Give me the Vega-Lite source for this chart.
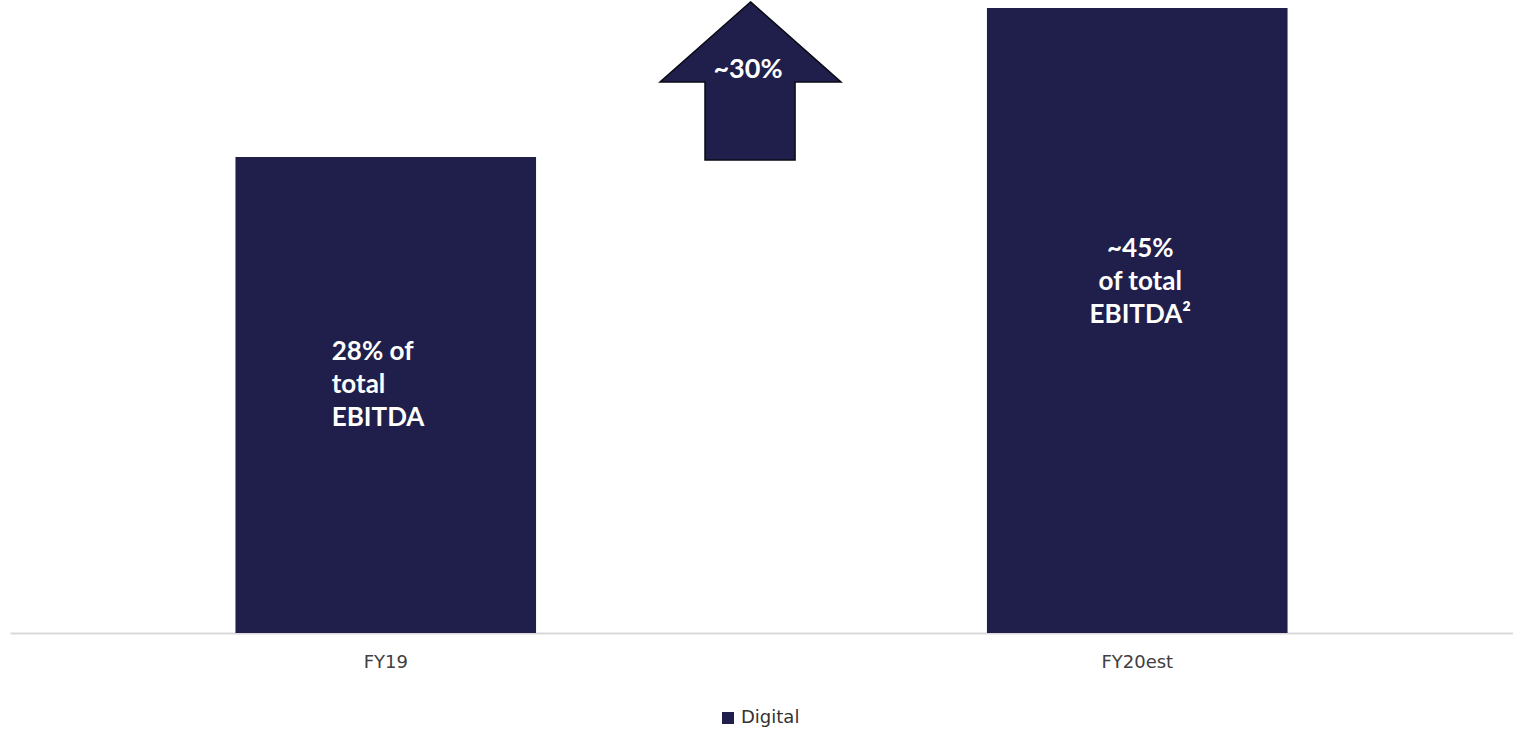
{
  "$schema": "https://vega.github.io/schema/vega-lite/v6.json",
  "width": 1503,
  "height": 633,
  "autosize": {"type": "none"},
  "padding": {"left": 10, "top": 0, "right": 0, "bottom": 99},
  "background": "white",
  "config": {
    "view": {"stroke": null},
    "font": "Lato"
  },
  "datasets": {
    "bars": [
      {"period": "FY19", "series": "Digital", "value": 100, "label": ["28% of", "total", "EBITDA"]},
      {"period": "FY20est", "series": "Digital", "value": 131.3, "label": ["~45%", "of total", "EBITDA²"]}
    ],
    "arrow": [
      {"ax": 49.27, "ay": 116.0}
    ],
    "growth": [
      {"ax": 49.1, "y": 116.6, "text": "~30%"}
    ]
  },
  "resolve": {"scale": {"x": "independent"}},
  "layer": [
    {
      "data": {"name": "bars"},
      "encoding": {
        "x": {
          "field": "period",
          "type": "nominal",
          "sort": ["FY19", "FY20est"],
          "scale": {"paddingInner": 0.6, "paddingOuter": 0.3},
          "axis": {
            "title": null,
            "labelAngle": 0,
            "ticks": false,
            "domainColor": "#d9d9d9",
            "domainWidth": 2,
            "labelFont": "DejaVu Sans",
            "labelFontSize": 18,
            "labelColor": "#404040",
            "labelPadding": 20,
            "grid": false
          }
        },
        "y": {
          "field": "value",
          "type": "quantitative",
          "scale": {"domain": [0, 133], "nice": false},
          "axis": null
        }
      },
      "layer": [
        {
          "mark": {"type": "bar"},
          "encoding": {
            "color": {
              "field": "series",
              "type": "nominal",
              "scale": {"range": ["#201F4C"]},
              "legend": {
                "title": null,
                "orient": "none",
                "legendX": 709,
                "legendY": 709,
                "direction": "horizontal",
                "symbolType": "square",
                "symbolSize": 144,
                "symbolStrokeWidth": 0,
                "labelFont": "DejaVu Sans",
                "labelFontSize": 18,
                "labelColor": "#333333",
                "labelOffset": 4,
                "padding": 0
              }
            }
          }
        },
        {
          "transform": [{"filter": "datum.period == 'FY19'"}],
          "mark": {
            "type": "text",
            "align": "left",
            "baseline": "alphabetic",
            "dx": -54,
            "dy": 203,
            "fontSize": 26,
            "fontWeight": "bold",
            "lineHeight": 33,
            "color": "white",
            "font": "Lato"
          },
          "encoding": {"text": {"field": "label"}}
        },
        {
          "transform": [{"filter": "datum.period == 'FY20est'"}],
          "mark": {
            "type": "text",
            "align": "center",
            "baseline": "alphabetic",
            "dx": 3,
            "dy": 249,
            "fontSize": 26,
            "fontWeight": "bold",
            "lineHeight": 33,
            "color": "white",
            "font": "Lato"
          },
          "encoding": {"text": {"field": "label"}}
        }
      ]
    },
    {
      "layer": [
        {
          "data": {"name": "arrow"},
          "mark": {
            "type": "point",
            "filled": true,
            "shape": "M0,-0.873L1,0.011L0.492,0.011L0.492,0.873L-0.503,0.873L-0.503,0.011L-1,0.011Z",
            "size": 32761,
            "fill": "#201F4C",
            "stroke": "#0a0a14",
            "strokeWidth": 1.5,
            "opacity": 1,
            "fillOpacity": 1
          },
          "encoding": {
            "x": {"field": "ax", "type": "quantitative", "scale": {"domain": [0, 100], "nice": false, "zero": false}, "axis": null},
            "y": {"field": "ay", "type": "quantitative", "scale": {"domain": [0, 133], "nice": false}, "axis": null}
          }
        },
        {
          "data": {"name": "growth"},
          "mark": {"type": "text", "align": "center", "baseline": "alphabetic", "fontSize": 27, "fontWeight": "bold", "color": "white", "font": "Lato"},
          "encoding": {
            "x": {"field": "ax", "type": "quantitative", "scale": {"domain": [0, 100], "nice": false, "zero": false}, "axis": null},
            "y": {"field": "y", "type": "quantitative", "axis": null},
            "text": {"field": "text"}
          }
        }
      ]
    }
  ]
}
